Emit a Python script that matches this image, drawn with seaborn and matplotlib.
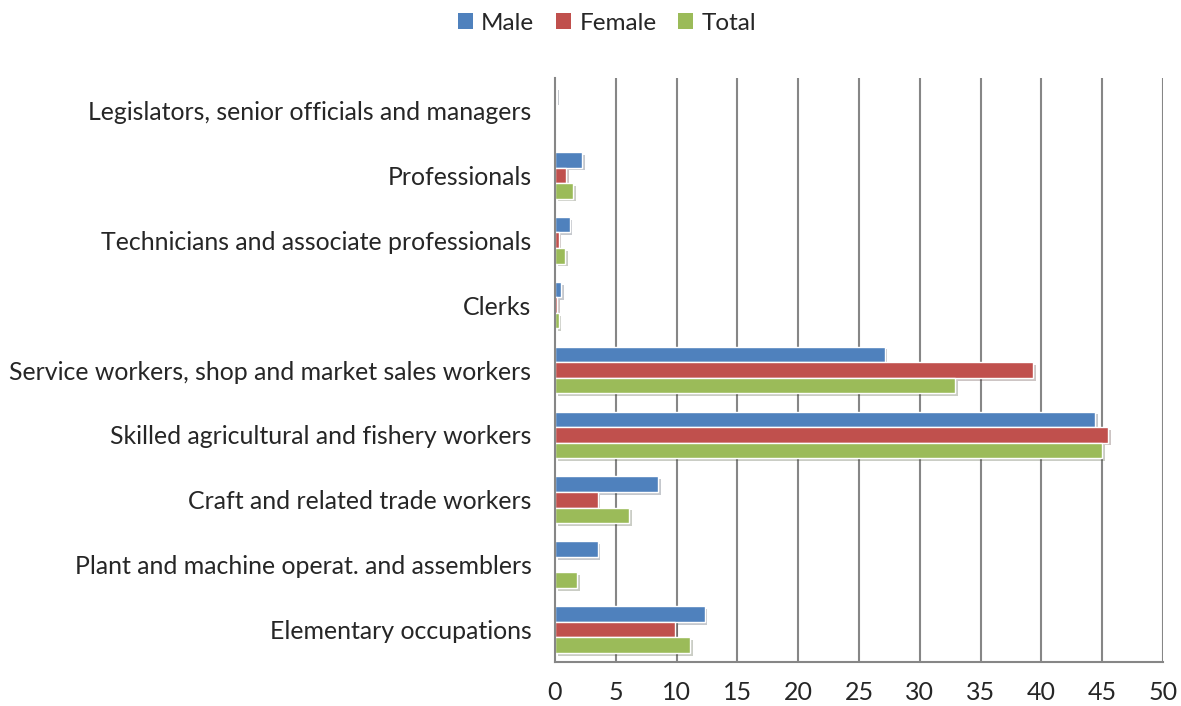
import matplotlib
matplotlib.use("Agg")
import matplotlib.pyplot as plt
import matplotlib.patheffects as pe
import seaborn as sns
import pandas as pd

categories = [
    "Legislators, senior officials and managers",
    "Professionals",
    "Technicians and associate professionals",
    "Clerks",
    "Service workers, shop and market sales workers",
    "Skilled agricultural and fishery workers",
    "Craft and related trade workers",
    "Plant and machine operat. and assemblers",
    "Elementary occupations",
]
male = [0.1, 2.2, 1.2, 0.5, 27.1, 44.4, 8.5, 3.5, 12.3]
female = [0.0, 0.9, 0.3, 0.2, 39.3, 45.5, 3.5, 0.0, 9.9]
total = [0.05, 1.5, 0.8, 0.3, 32.9, 45.0, 6.1, 1.8, 11.1]
series = ["Male", "Female", "Total"]
colors = ["#4F81BD", "#C0504D", "#9BBB59"]
xticks = [0, 5, 10, 15, 20, 25, 30, 35, 40, 45, 50]

df = pd.DataFrame({"Category": categories, "Male": male, "Female": female, "Total": total})
long = df.melt(id_vars="Category", var_name="Series", value_name="Value")

sns.set_style("white")
plt.rcParams["font.family"] = ["Lato", "DejaVu Sans"]

fig = plt.figure(figsize=(11.81, 7.06), dpi=100)
ax = fig.add_axes([555 / 1181, 1 - 662 / 706, (1163 - 555) / 1181, (662 - 78) / 706])

sns.barplot(data=long, y="Category", x="Value", hue="Series", order=categories,
            hue_order=series, palette=colors, orient="h", width=0.72,
            edgecolor="white", linewidth=1.0, ax=ax, saturation=1)

for p in ax.patches:
    p.set_path_effects([pe.SimplePatchShadow(offset=(2, -2), alpha=0.25), pe.Normal()])

ax.set_xlim(0, 50)
ax.set_xticks(xticks)
ax.set_xticklabels([str(t) for t in xticks], fontsize=18)
ax.set_ylim(len(categories) - 0.5, -0.5)
ax.set_yticks([i + 0.5 for i in range(-1, len(categories))], minor=True)
ax.tick_params(axis="y", which="major", length=0, labelsize=17.9, pad=17)
ax.tick_params(axis="y", which="minor", length=7, color="#868686", width=1.2, direction="out")
ax.tick_params(axis="x", which="major", length=7, color="#868686", width=1.2, direction="out", pad=7)
ax.set_xlabel("")
ax.set_ylabel("")

ax.grid(False)
for t in xticks[1:]:
    ax.axvline(t, color="#868686", linewidth=1.5, zorder=0)
ax.set_axisbelow(True)

for s in ["top", "right"]:
    ax.spines[s].set_visible(False)
for s in ["left", "bottom"]:
    ax.spines[s].set_color("#868686")
    ax.spines[s].set_linewidth(1.5)

handles, labels = ax.get_legend_handles_labels()
ax.legend_.remove()
leg = fig.legend(handles, labels, loc="center", bbox_to_anchor=(0.514, 1 - 23 / 706), ncol=3,
                 frameon=False, fontsize=17.5, handlelength=0.6, handleheight=0.6,
                 handletextpad=0.35, columnspacing=0.9)
for h in leg.legend_handles:
    h.set_path_effects([])
    h.set_edgecolor("none")

fig.savefig("out.png", dpi=100)
